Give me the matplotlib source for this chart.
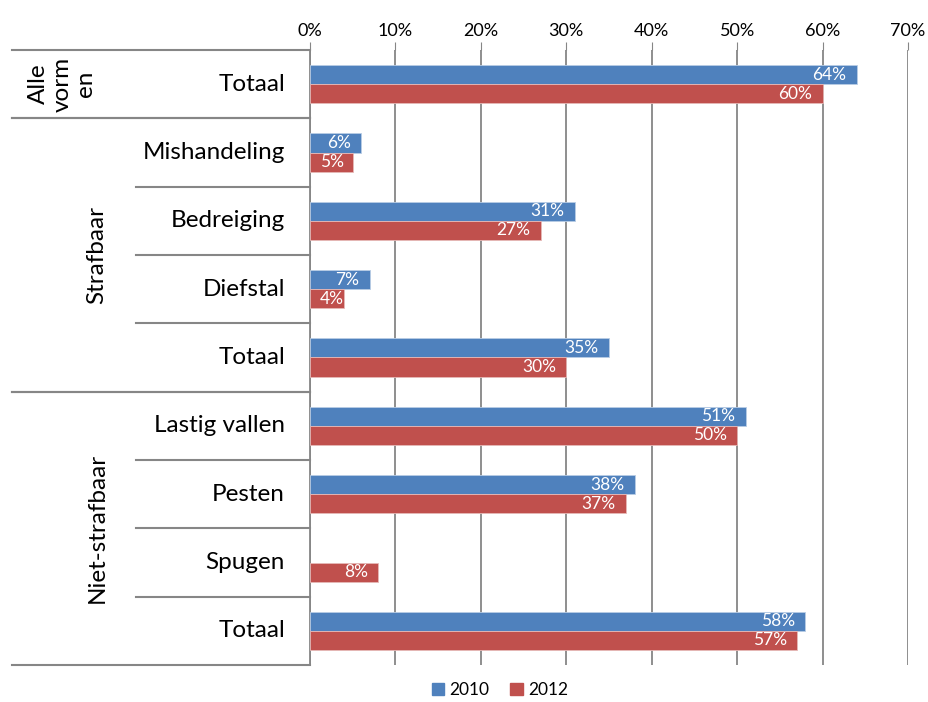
import numpy as np
import matplotlib.pyplot as plt
import matplotlib.transforms as mtransforms
from matplotlib.patches import Patch

plt.rcParams["font.family"] = ["Lato", "DejaVu Sans"]

# data, top to bottom
categories = ["Totaal", "Mishandeling", "Bedreiging", "Diefstal", "Totaal",
              "Lastig vallen", "Pesten", "Spugen", "Totaal"]
values_2010 = [64, 6, 31, 7, 35, 51, 38, np.nan, 58]
values_2012 = [60, 5, 27, 4, 30, 50, 37, 8, 57]
groups = ["Alle\nvorm\nen", "Strafbaar", "Niet-strafbaar"]
group_sizes = [1, 4, 4]
series_names = ["2010", "2012"]
x_ticks = [0, 10, 20, 30, 40, 50, 60, 70]

BLUE = "#4F81BD"
RED = "#C0504D"
GREY = "#868686"

W, H = 929, 702
fig = plt.figure(figsize=(W / 100, H / 100), dpi=100)
ax = fig.add_axes([310 / W, 1 - 665 / H, (908 - 310) / W, (665 - 50) / H])

rows = np.arange(len(categories))
bh = 0.28
bars10 = ax.barh(rows - bh / 2, values_2010, height=bh, color=BLUE,
                 edgecolor="#B9CDE5", linewidth=0.6, zorder=3)
bars12 = ax.barh(rows + bh / 2, values_2012, height=bh, color=RED,
                 edgecolor="#E6B9B8", linewidth=0.6, zorder=3)

# value labels inside bar ends (short bars: keep the label from leaving the axis)
for bars, vals in [(bars10, values_2010), (bars12, values_2012)]:
    for bar, v in zip(bars, vals):
        if np.isnan(v):
            continue
        x = max(v - 1.2, 4.0)
        ax.text(x, bar.get_y() + bar.get_height() / 2, f"{v:.0f}%",
                ha="right", va="center", color="white", fontsize=12.5, zorder=4)

ax.set_xlim(0, 70)
ax.set_ylim(len(categories) - 0.5, -0.5)
ax.set_xticks(x_ticks)
ax.set_xticklabels([f"{t}%" for t in x_ticks], fontsize=13)
ax.xaxis.tick_top()
ax.tick_params(axis="x", length=6, color=GREY, pad=2)
ax.set_yticks([])
ax.grid(axis="x", color=GREY, linewidth=1.3, zorder=0)
for s in ["top", "right", "bottom"]:
    ax.spines[s].set_visible(False)
ax.spines["left"].set_color(GREY)
ax.spines["left"].set_linewidth(1.3)

# category labels and separators, drawn in figure-x / data-y coords
trans = mtransforms.blended_transform_factory(fig.transFigure, ax.transData)
x_axis = 310 / W
for r, name in enumerate(categories):
    ax.text(285 / W, r, name, transform=trans, ha="right", va="center",
            fontsize=17.5)

start = 0
for g, size in zip(groups, group_sizes):
    top = start - 0.5
    bottom = start + size - 0.5
    ax.plot([12 / W, x_axis], [top, top], transform=trans, color=GREY,
            lw=1.5, clip_on=False)
    ax.plot([12 / W, x_axis], [bottom, bottom], transform=trans, color=GREY,
            lw=1.5, clip_on=False)
    for k in range(1, size):
        y = start + k - 0.5
        ax.plot([136 / W, x_axis], [y, y], transform=trans, color=GREY,
                lw=1.5, clip_on=False)
    mid = start + (size - 1) / 2
    gx = 62 / W if size == 1 else 97 / W
    ax.text(gx, mid, g, transform=trans, rotation=90, ha="center",
            va="center", multialignment="center", fontsize=17.5,
            linespacing=1.15)
    start += size

handles = [Patch(color=BLUE), Patch(color=RED)]
fig.legend(handles, series_names, loc="center", bbox_to_anchor=(500 / W, 1 - 690 / H),
           ncol=2, frameon=False, fontsize=12.5, handlelength=0.7, handleheight=0.7,
           handletextpad=0.3, columnspacing=1.2)

fig.savefig("out.png", dpi=100)
